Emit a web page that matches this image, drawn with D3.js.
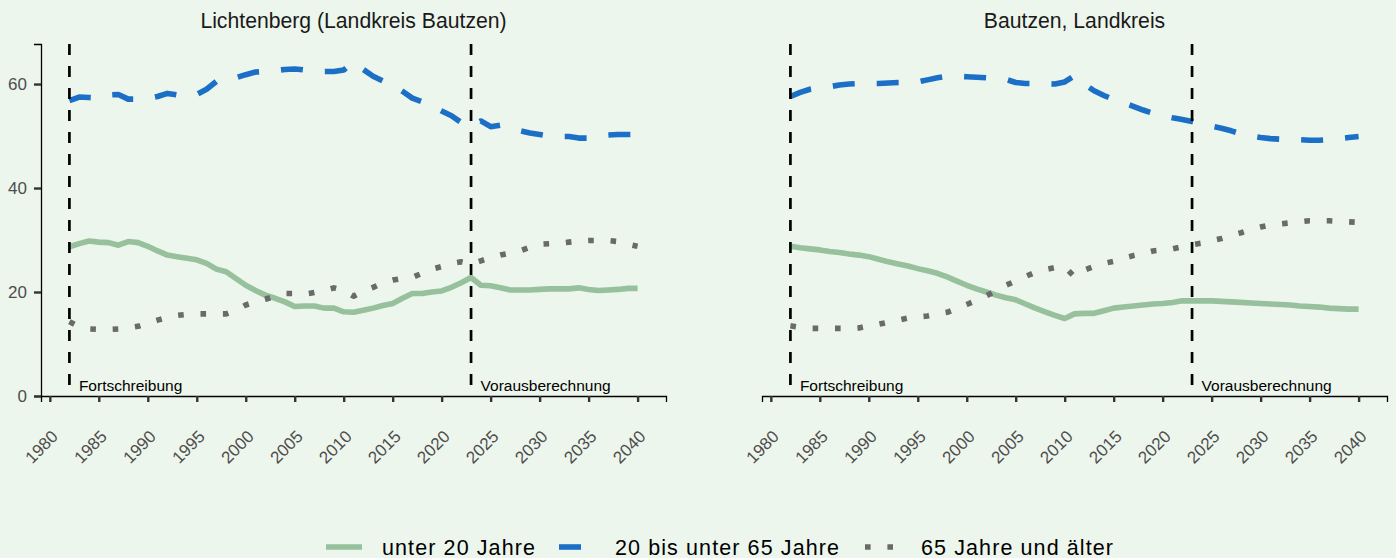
<!DOCTYPE html>
<html>
<head>
<meta charset="utf-8">
<script src="https://cdn.jsdelivr.net/npm/d3@7"></script>
<style>
  html, body { margin: 0; padding: 0; background: #EDF6EC; }
  svg { display: block; font-family: "Liberation Sans", Arial, sans-serif; }
</style>
</head>
<body>
<svg id="chart" width="1396" height="558"></svg>
<script>
// --- data ---
const years = [1982, 1983, 1984, 1985, 1986, 1987, 1988, 1989, 1990, 1991,
  1992, 1993, 1994, 1995, 1996, 1997, 1998, 1999, 2000, 2001,
  2002, 2003, 2004, 2005, 2006, 2007, 2008, 2009, 2010, 2011,
  2012, 2013, 2014, 2015, 2016, 2017, 2018, 2019, 2020, 2021,
  2022, 2023, 2024, 2025, 2026, 2027, 2028, 2029, 2030, 2031,
  2032, 2033, 2034, 2035, 2036, 2037, 2038, 2039, 2040];

const panelTitles = ['Lichtenberg (Landkreis Bautzen)', 'Bautzen, Landkreis'];
const seriesNames = ['unter 20 Jahre', '20 bis unter 65 Jahre', '65 Jahre und älter'];

const lichtU20 = [28.7, 29.3, 29.8, 29.6, 29.5, 29.0, 29.7, 29.5, 28.8, 27.9,
  27.1, 26.8, 26.5, 26.2, 25.5, 24.4, 23.9, 22.6, 21.3, 20.3,
  19.4, 18.8, 18.1, 17.2, 17.3, 17.3, 16.9, 16.9, 16.2, 16.1,
  16.5, 16.9, 17.4, 17.8, 18.8, 19.7, 19.7, 20.0, 20.2, 20.9,
  21.8, 22.8, 21.3, 21.2, 20.8, 20.4, 20.4, 20.4, 20.5, 20.6,
  20.6, 20.6, 20.8, 20.5, 20.3, 20.4, 20.5, 20.7, 20.7];
const lichtMid = [56.8, 57.5, 57.4, 57.3, 57.9, 58.0, 57.1, 57.1, 57.2, 57.6,
  58.2, 57.9, 57.8, 58.0, 59.0, 60.5, 60.8, 61.2, 61.8, 62.3,
  62.4, 62.6, 62.8, 62.9, 62.7, 62.6, 62.4, 62.4, 62.7, 64.2,
  62.8, 61.5, 60.6, 59.8, 58.6, 57.3, 56.6, 55.8, 54.8, 53.9,
  52.6, 51.9, 52.9, 51.8, 52.1, 51.6, 51.0, 50.6, 50.3, 50.0,
  49.9, 49.9, 49.6, 49.6, 49.9, 50.2, 50.3, 50.3, 50.3];
const lichtO65 = [14.3, 13.3, 12.9, 12.8, 12.8, 12.9, 13.1, 13.4, 14.0, 14.6,
  15.1, 15.5, 15.7, 15.8, 15.8, 15.8, 15.8, 16.5, 17.5, 18.1,
  18.6, 19.2, 19.7, 19.7, 19.6, 19.9, 20.3, 20.8, 20.3, 19.2,
  20.2, 20.9, 21.7, 22.3, 22.6, 22.8, 23.6, 24.4, 24.9, 25.5,
  25.8, 25.4, 26.0, 26.6, 27.1, 27.5, 27.9, 28.6, 29.2, 29.3,
  29.4, 29.6, 29.8, 29.9, 29.9, 29.9, 29.7, 29.2, 28.8];

const bautzenU20 = [28.8, 28.5, 28.3, 28.1, 27.8, 27.6, 27.3, 27.1, 26.8, 26.3,
  25.8, 25.4, 25.0, 24.5, 24.1, 23.6, 22.9, 22.1, 21.3, 20.6,
  20.0, 19.4, 18.9, 18.5, 17.7, 16.9, 16.2, 15.5, 14.9, 15.8,
  15.9, 15.9, 16.4, 16.9, 17.1, 17.3, 17.5, 17.7, 17.8, 18.0,
  18.3, 18.3, 18.3, 18.3, 18.2, 18.1, 18.0, 17.9, 17.8, 17.7,
  17.6, 17.5, 17.3, 17.2, 17.1, 16.9, 16.8, 16.7, 16.7];
const bautzenMid = [57.6, 58.4, 59.0, 59.3, 59.5, 59.8, 60.0, 60.1, 60.1, 60.1,
  60.2, 60.3, 60.35, 60.4, 60.8, 61.2, 61.5, 61.5, 61.4, 61.3,
  61.2, 61.1, 60.9, 60.3, 60.1, 60.1, 60.1, 60.0, 60.4, 61.6,
  60.0, 58.7, 57.8, 57.0, 56.4, 55.7, 55.0, 54.4, 53.9, 53.5,
  53.2, 52.8, 52.3, 51.9, 51.5, 51.0, 50.4, 50.0, 49.7, 49.5,
  49.4, 49.4, 49.3, 49.2, 49.2, 49.3, 49.5, 49.7, 49.9];
const bautzenO65 = [13.5, 13.2, 13.0, 13.0, 13.0, 13.0, 13.0, 13.1, 13.5, 13.8,
  14.2, 14.6, 15.0, 15.2, 15.4, 15.8, 16.1, 16.8, 17.6, 18.4,
  19.3, 20.2, 21.3, 22.1, 23.0, 23.8, 24.3, 24.7, 24.9, 22.9,
  24.2, 24.9, 25.5, 25.9, 26.5, 27.0, 27.4, 27.9, 28.1, 28.3,
  28.7, 29.1, 29.4, 29.9, 30.3, 30.9, 31.4, 32.0, 32.5, 32.9,
  33.1, 33.3, 33.5, 33.7, 33.7, 33.7, 33.6, 33.5, 33.4];

const xTicks = [1980, 1985, 1990, 1995, 2000, 2005, 2010, 2015, 2020, 2025, 2030, 2035, 2040];
const yTicks = [0, 20, 40, 60];
const markerYears = [1982, 2023];
const markerLabels = ['Fortschreibung', 'Vorausberechnung'];

// --- style ---
const colors = ['#96C19C', '#1C6FC6', '#6A6A6A'];
const dashes = [null, '22,22', '5.6,16.8'];
const lineW = 5.6;

const panels = [
  { title: panelTitles[0], series: [lichtU20, lichtMid, lichtO65], left: 41, yAxis: true },
  { title: panelTitles[1], series: [bautzenU20, bautzenMid, bautzenO65], left: 762, yAxis: false }
];

const panelW = 625, plotTop = 44, plotBottom = 396;
const svg = d3.select('#chart');

const y = d3.scaleLinear().domain([0, 67.7]).range([plotBottom, plotTop]);

panels.forEach(p => {
  const x = d3.scaleLinear().domain([1979.1, 2042.9]).range([p.left, p.left + panelW]);
  const g = svg.append('g');

  // series lines
  const line = d3.line().x(d => x(d[0])).y(d => y(d[1]));
  p.series.forEach((vals, i) => {
    g.append('path')
      .datum(years.map((yr, k) => [yr, vals[k]]))
      .attr('d', line)
      .attr('fill', 'none')
      .attr('stroke', colors[i])
      .attr('stroke-width', lineW)
      .attr('stroke-linejoin', 'round')
      .attr('stroke-linecap', 'butt')
      .attr('stroke-dasharray', dashes[i]);
  });

  // dashed vertical markers + labels
  markerYears.forEach((yr, i) => {
    g.append('line')
      .attr('x1', x(yr)).attr('x2', x(yr))
      .attr('y1', plotTop).attr('y2', plotBottom)
      .attr('stroke', '#000')
      .attr('stroke-width', 2.7)
      .attr('stroke-dasharray', '11,11');
    g.append('text')
      .attr('x', x(yr) + 9.5)
      .attr('y', 391)
      .attr('font-size', 15.5)
      .attr('fill', '#000')
      .text(markerLabels[i]);
  });

  // x axis
  const xAxis = g.append('g').attr('transform', `translate(0,${plotBottom})`)
    .call(d3.axisBottom(x).tickValues(xTicks).tickFormat(d3.format('d')).tickSize(6).tickPadding(0));
  xAxis.select('.domain').attr('stroke', '#000').attr('stroke-width', 1.3);
  xAxis.selectAll('.tick line').attr('stroke', '#333').attr('stroke-width', 2.4);
  xAxis.selectAll('.tick text')
    .attr('font-family', '"Liberation Sans", Arial, sans-serif')
    .attr('font-size', 17)
    .attr('fill', '#4D4D4D')
    .attr('text-anchor', 'end')
    .attr('y', 0).attr('dy', '0.72em')
    .attr('transform', 'translate(0,33) rotate(-45)');

  // y axis (left panel only)
  if (p.yAxis) {
    const yAxis = g.append('g').attr('transform', `translate(${p.left},0)`)
      .call(d3.axisLeft(y).tickValues(yTicks).tickSize(7).tickPadding(7));
    yAxis.select('.domain').attr('stroke', '#000').attr('stroke-width', 1.3);
    yAxis.selectAll('.tick line').attr('stroke', '#333').attr('stroke-width', 2.4);
    yAxis.selectAll('.tick text')
      .attr('font-family', '"Liberation Sans", Arial, sans-serif')
      .attr('font-size', 17)
      .attr('fill', '#4D4D4D');
  }

  // facet title
  svg.append('text')
    .attr('x', p.left + panelW / 2)
    .attr('y', 28)
    .attr('text-anchor', 'middle')
    .attr('font-size', 21.2)
    .attr('fill', '#1A1A1A')
    .text(p.title);
});

// legend
const legendKeyX = [326, 559, 865];
const legend = svg.append('g').attr('transform', 'translate(0,547)');
seriesNames.forEach((name, i) => {
  legend.append('line')
    .attr('x1', legendKeyX[i]).attr('x2', legendKeyX[i] + 36)
    .attr('y1', 0).attr('y2', 0)
    .attr('stroke', colors[i])
    .attr('stroke-width', lineW)
    .attr('stroke-dasharray', dashes[i]);
  legend.append('text')
    .attr('x', legendKeyX[i] + 56)
    .attr('y', 7.5)
    .attr('font-size', 21.5)
    .attr('letter-spacing', 1.1)
    .attr('fill', '#000')
    .text(name);
});
</script>
</body>
</html>
